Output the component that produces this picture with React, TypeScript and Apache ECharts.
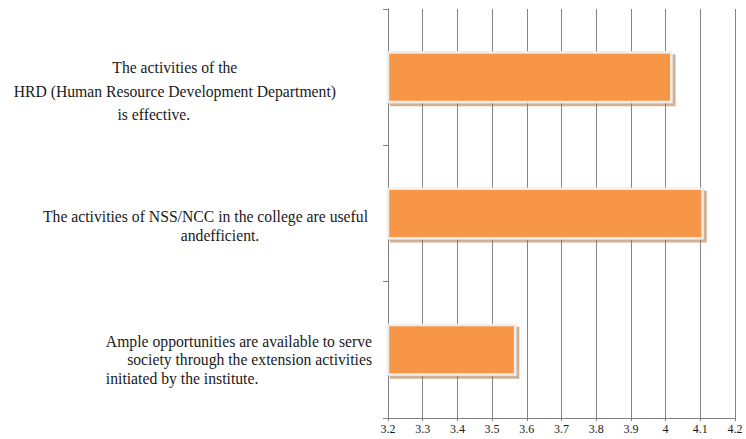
import React, { useEffect, useRef } from "react";
import * as echarts from "echarts";

// Category labels (bottom to top), split in the lines shown in the reference
const categoryLines: string[][] = [
  [
    "Ample opportunities are available to serve",
    "society through the extension activities",
    "initiated by the institute.",
  ],
  ["The activities of NSS/NCC in the college are useful", "andefficient."],
  [
    "The activities of the",
    "HRD (Human Resource Development Department)",
    "is effective.",
  ],
];
const categories: string[] = categoryLines.map((l) => l.join(" "));
const values: number[] = [3.57, 4.11, 4.02];

const xMin = 3.2;
const xMax = 4.2;
const xInterval = 0.1;

const FONT = "Liberation Serif";
const FS = 15.7;

export default function App() {
  const ref = useRef<HTMLDivElement>(null);
  useEffect(() => {
    document.body.style.margin = "0";
    if (!ref.current) return;
    const chart = echarts.init(ref.current, undefined, { renderer: "svg" });
    const tok = (extra: any) => ({
      fontFamily: FONT,
      fontSize: FS,
      color: "#1a1a1a",
      ...extra,
    });
    const rich: Record<string, any> = {
      k0_0: tok({ align: "right", lineHeight: 18.5 }),
      k0_1: tok({ align: "right", lineHeight: 18.5 }),
      k0_2: tok({ align: "left", lineHeight: 18.5 }),
      k1_0: tok({ align: "right", lineHeight: 18.5, padding: [0, 4, 0, 0] }),
      k1_1: tok({ align: "center", lineHeight: 18.5, padding: [0, 0, 0, 25] }),
      k2_0: tok({ align: "center", lineHeight: 23.5, padding: [0, 36, 0, 0] }),
      k2_1: tok({ align: "right", lineHeight: 23.5, padding: [0, 36, 0, 0] }),
      k2_2: tok({ align: "center", lineHeight: 23.5, padding: [0, 78, 0, 0] }),
    };
    // vertical shift of each category label (top padding = 2 x shift)
    const labelPadTop = [20, 25, 28];
    chart.setOption({
      animation: false,
      textStyle: { fontFamily: FONT },
      grid: { left: 388, right: 11, top: 9, bottom: 21, containLabel: false },
      xAxis: {
        type: "value",
        min: xMin,
        max: xMax,
        interval: xInterval,
        axisLine: { show: true, lineStyle: { color: "#7f7f7f", width: 1 } },
        axisTick: { show: true, length: 3, lineStyle: { color: "#7f7f7f" } },
        splitLine: { show: true, lineStyle: { color: "#858585", width: 1 } },
        axisLabel: {
          fontFamily: FONT,
          fontSize: 12,
          color: "#1a1a1a",
          margin: 5,
          formatter: (v: number) => String(Math.round(v * 10) / 10),
        },
      },
      yAxis: {
        type: "category",
        data: categories.map((c, i) => ({
          value: c,
          textStyle: { padding: [labelPadTop[i], 0, 0, 0] },
        })),
        axisLine: { show: true, lineStyle: { color: "#7f7f7f", width: 1 } },
        axisTick: { show: true, length: 5, lineStyle: { color: "#7f7f7f" } },
        splitLine: { show: false },
        axisLabel: {
          interval: 0,
          margin: 16,
          align: "right",
          fontFamily: FONT,
          fontSize: FS,
          color: "#1a1a1a",
          formatter: (value: string) => {
            const i = categories.indexOf(value);
            return categoryLines[i]
              .map((line, j) => `{k${i}_${j}|${line}}`)
              .join("\n");
          },
          rich,
        },
      },
      series: [
        {
          type: "bar",
          data: values,
          barWidth: 52,
          itemStyle: {
            color: "#F79646",
            borderColor: "#efedeb",
            borderWidth: 2.5,
            shadowColor: "rgba(170, 110, 60, 0.55)",
            shadowBlur: 1,
            shadowOffsetX: 3,
            shadowOffsetY: 3,
          },
        },
      ],
    });
    return () => chart.dispose();
  }, []);
  return <div ref={ref} style={{ width: 746, height: 439 }} />;
}
